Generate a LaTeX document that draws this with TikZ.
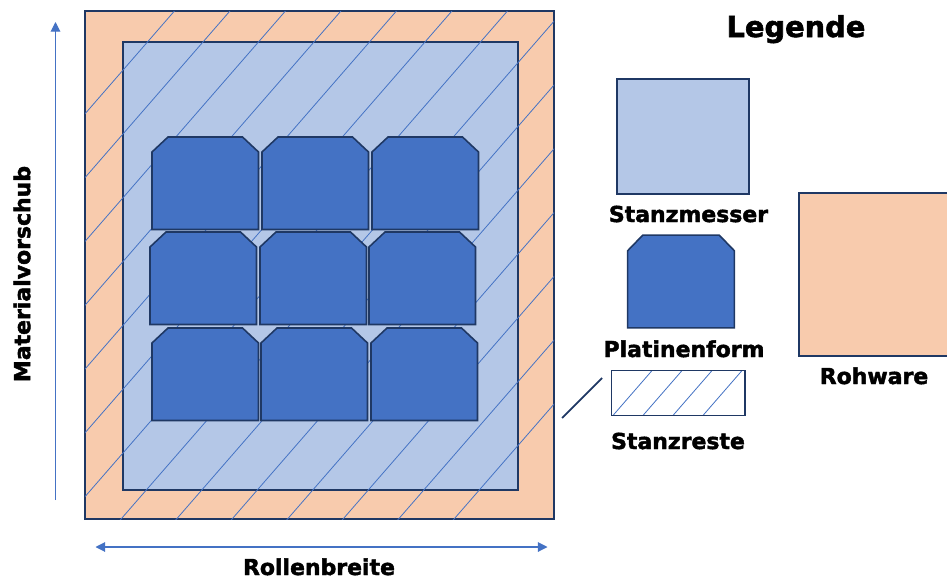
\documentclass[tikz,border=0pt]{standalone}
\usepackage{fontspec}
\setmainfont{DejaVu Sans}[BoldFeatures={FakeBold=2}]
\usetikzlibrary{arrows.meta}
\definecolor{rohware}{HTML}{F8CBAD}
\definecolor{messerblau}{HTML}{B4C7E7}
\definecolor{platinenblau}{HTML}{4472C4}
\definecolor{rahmen}{HTML}{1F3864}

\begin{document}
\begin{tikzpicture}[
  x=0.02cm, y=-0.02cm,
  rand/.style={draw=rahmen, line width=1.1pt},
  platine/.style={draw=rahmen, line width=0.9pt, fill=platinenblau},
  schraffur/.style={platinenblau, line width=0.45pt},
  pfeil/.style={platinenblau, line width=0.6pt},
  spitze/.tip={Triangle[length=5.5pt, width=5.5pt]},
  beschr/.style={font=\bfseries\fontsize{12.5}{15}\selectfont, anchor=base, inner sep=0pt}
]
  \useasboundingbox (0,0) rectangle (947,578);

  % Rohware mit Stanzmesser
  \filldraw[rand, fill=rohware] (85,11) rectangle (554,519);
  \filldraw[rand, fill=messerblau] (123,42) rectangle (518,490);

  % Stanzreste
  \begin{scope}
    \clip (85,11) rectangle (554,519);
    \foreach \k in {0,...,13}
      \draw[schraffur] ({184+55.5*\k-461},530) -- ({184+55.5*\k},0);
  \end{scope}

  % Platinen 3x3
  \foreach \px/\py in {152/137, 262/137, 372/137,
                       150/232, 260/232, 369/232,
                       152/328, 261/328, 371/328}
    \draw[platine] (\px,\py+15) -- ++(16,-15) -- ++(74.5,0) -- ++(16,15)
      -- ++(0,77.5) -- ++(-106.5,0) -- cycle;

  % Pfeile
  \coordinate (vorschub-anfang) at (55.5,500);
  \coordinate (vorschub-ende) at (55.5,22);
  \draw[pfeil, -spitze] (vorschub-anfang) -- (vorschub-ende);
  \node[beschr, rotate=90, anchor=center] (vorschub) at (22,274) {Materialvorschub};

  \coordinate (breite-links) at (95.5,547);
  \coordinate (breite-rechts) at (547.5,547);
  \draw[pfeil, spitze-spitze] (breite-links) -- (breite-rechts);
  \node[beschr] (breite) at (319,575) {Rollenbreite};

  % Legende
  \node[beschr, font=\bfseries\fontsize{16.4}{20}\selectfont] (legende) at (796,37) {Legende};

  \filldraw[draw=rahmen, line width=0.9pt, fill=messerblau] (617,79) rectangle (749,194);
  \node[beschr] (stanzmesser) at (688.5,222) {Stanzmesser};

  \draw[platine] (627.7,250.7) -- ++(15,-15.5) -- ++(76.6,0) -- ++(15,15.5)
    -- ++(0,77.1) -- ++(-106.6,0) -- cycle;
  \node[beschr] (platinenform) at (684,357) {Platinenform};

  \draw[rahmen, line width=1pt] (562,418) -- (602,378);
  \filldraw[draw=rahmen, line width=0.9pt, fill=white] (611.7,370.4) rectangle (745,415.6);
  \begin{scope}
    \clip (611.7,370.4) rectangle (745,415.6);
    \foreach \k in {0,...,3}
      \draw[schraffur] ({974.5+30*\k-362},416) -- ({974.5+30*\k-322},370);
  \end{scope}
  \draw[draw=rahmen, line width=0.9pt] (611.7,370.4) rectangle (745,415.6);
  \node[beschr] (stanzreste) at (678,449) {Stanzreste};

  \filldraw[draw=rahmen, line width=0.9pt, fill=rohware] (799,193) rectangle (960,356);
  \node[beschr] (rohware-text) at (874,384) {Rohware};
\end{tikzpicture}
\end{document}
